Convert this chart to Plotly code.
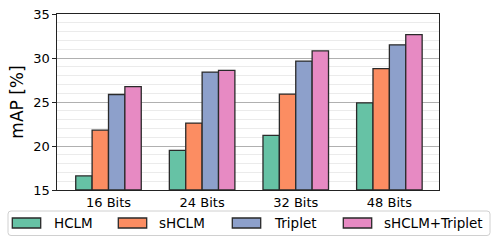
import plotly.graph_objects as go

categories = ["16 Bits", "24 Bits", "32 Bits", "48 Bits"]
series_names = ["HCLM", "sHCLM", "Triplet", "sHCLM+Triplet"]
hclm = [16.6, 19.5, 21.2, 24.9]
shclm = [21.8, 22.6, 25.9, 28.8]
triplet = [25.85, 28.4, 29.65, 31.5]
shclm_triplet = [26.75, 28.6, 30.8, 32.65]
colors = ["#66c2a5", "#fc8d62", "#8da0cb", "#e78ac3"]
y_ticks = [15, 20, 25, 30, 35]

W, H = 498, 249
L, R, T, B = 57, 59, 14, 59
pw, ph = W - L - R, H - T - B


def px(x):
    return (x - L) / pw


def py(y):
    return (H - B - y) / ph


fig = go.Figure()
for name, vals, col in zip(series_names, [hclm, shclm, triplet, shclm_triplet], colors):
    fig.add_trace(go.Bar(
        x=list(range(len(categories))), y=[v - 15 for v in vals], base=15,
        name=name, marker=dict(color=col, line=dict(color="#2a2a2a", width=1.3)),
    ))

# manual legend (matplotlib-like)
shapes = []
annotations = []
x0, x1, y0, y1 = 8, 490, 211, 235.5
r = 3
path = (f"M {px(x0 + r)} {py(y0)} L {px(x1 - r)} {py(y0)} "
        f"Q {px(x1)} {py(y0)} {px(x1)} {py(y0 + r)} L {px(x1)} {py(y1 - r)} "
        f"Q {px(x1)} {py(y1)} {px(x1 - r)} {py(y1)} L {px(x0 + r)} {py(y1)} "
        f"Q {px(x0)} {py(y1)} {px(x0)} {py(y1 - r)} L {px(x0)} {py(y0 + r)} "
        f"Q {px(x0)} {py(y0)} {px(x0 + r)} {py(y0)} Z")
shapes.append(dict(type="path", xref="paper", yref="paper", path=path,
                   line=dict(color="#d0d0d0", width=1), fillcolor="white"))
sw_x = [12.3, 118.3, 232.3, 343.3]
tx_x = [51.7, 157, 271.7, 381.7]
for i, (name, col) in enumerate(zip(series_names, colors)):
    shapes.append(dict(type="rect", xref="paper", yref="paper",
                       x0=px(sw_x[i]), x1=px(sw_x[i] + 28.4), y0=py(228), y1=py(218),
                       fillcolor=col, line=dict(color="#2a2a2a", width=1.3)))
    annotations.append(dict(text=name, xref="paper", yref="paper", x=px(tx_x[i]), y=py(223),
                            xanchor="left", yanchor="middle", showarrow=False,
                            font=dict(size=13.5, color="black")))

fig.update_layout(
    width=W, height=H,
    margin=dict(l=L, r=R, t=T, b=B, autoexpand=False),
    paper_bgcolor="white", plot_bgcolor="white",
    barmode="group", bargap=0.3, bargroupgap=0,
    font=dict(family="DejaVu Sans", size=13, color="black"),
    showlegend=False,
    shapes=shapes, annotations=annotations,
)
fig.update_xaxes(
    range=[-0.55, 3.53], tickvals=list(range(len(categories))), ticktext=categories,
    showline=True, linecolor="#222222", linewidth=1.2, mirror=True,
    ticks="", showgrid=False, tickfont=dict(size=13), zeroline=False,
)
fig.update_yaxes(
    range=[15, 35], tickvals=y_ticks, showline=True, linecolor="#222222", linewidth=1.2,
    mirror=True, ticks="outside", ticklen=3.5, tickcolor="#222222",
    showgrid=True, gridcolor="#b0b0b0", gridwidth=1,
    minor=dict(dtick=1, showgrid=True, gridcolor="#ebebeb", gridwidth=0.8),
    title=dict(text="mAP [%]", font=dict(size=17), standoff=5),
    tickfont=dict(size=13), zeroline=False,
)
fig.write_html("out.html", config={"displayModeBar": False},
               post_script="document.body.style.margin='0';document.body.style.overflow='hidden';")
